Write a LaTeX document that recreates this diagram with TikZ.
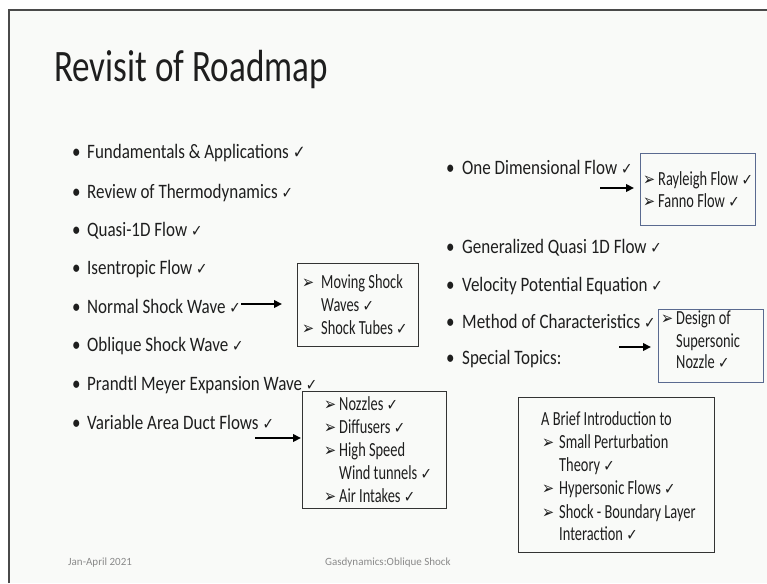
\documentclass[tikz,border=0pt]{standalone}
\usepackage{fontspec}
\setmainfont{Carlito}[FakeStretch=0.83]
\newfontfamily\boxf{Carlito}[FakeStretch=0.72]
\newfontfamily\titf{Carlito}[FakeStretch=0.78]
\newfontfamily\symf{DejaVu Sans}[FakeStretch=0.85]
\newfontfamily\arf{DejaVu Sans}[FakeStretch=0.8]
\newfontfamily\footf{Carlito}
\usetikzlibrary{arrows.meta}
\definecolor{bgc}{HTML}{F9FAF8}
\definecolor{framec}{HTML}{4A4A4A}
\definecolor{boxblue}{HTML}{5A6A90}
\definecolor{footc}{HTML}{8A8A8A}
\definecolor{txtc}{HTML}{1E1E1E}
\newcommand\ck{{\symf\fontsize{16}{16}\selectfont ✓}}
\newcommand\ckb{{\symf\fontsize{18}{18}\selectfont ✓}}
\newcommand\bul{\makebox[15pt][l]{•}}
\newcommand\bulr{\makebox[16pt][l]{•}}
\newcommand\arb[1]{\makebox[#1pt][l]{\arf\fontsize{18}{18}\selectfont ➢}}
\tikzset{
  txt/.style={inner sep=0pt, anchor=base west, text=txtc, font=\fontsize{20.5}{23}\selectfont},
  btxt/.style={inner sep=0pt, anchor=base west, text=txtc, font=\boxf\fontsize{20}{23}\selectfont},
  boxk/.style={draw=black!80, line width=1pt, anchor=north west, inner sep=0pt},
  boxb/.style={draw=boxblue, line width=1pt, anchor=north west, inner sep=0pt},
  flow/.style={line width=2.4pt, -{Triangle[length=8pt,width=7.5pt]}},
  foot/.style={inner sep=0pt, anchor=base west, text=footc, font=\footf\fontsize{11}{12}\selectfont}
}
\begin{document}
\begin{tikzpicture}[x=1pt,y=-1pt]
\useasboundingbox (0,0) rectangle (767,583);
\fill[white] (0,0) rectangle (767,583);
\fill[bgc] (9,10) rectangle (767,583);
\draw[framec, line width=2pt] (9,583) -- (9,10) -- (767,10);

\node[inner sep=0pt, anchor=base west, text=txtc, font=\titf\fontsize{45}{50}\selectfont] (title) at (54,82) {Revisit of Roadmap};

% left column
\node[txt] (l1) at (72,158) {\bul Fundamentals \& Applications~\ckb};
\node[txt] (l2) at (72,198) {\bul Review of Thermodynamics \ck};
\node[txt] (l3) at (72,236) {\bul Quasi-1D Flow \ck};
\node[txt] (l4) at (72,274) {\bul Isentropic Flow \ck};
\node[txt] (l5) at (72,313) {\bul Normal Shock Wave \ck};
\node[txt] (l6) at (72,351) {\bul Oblique Shock Wave \ck};
\node[txt] (l7) at (72,390) {\bul Prandtl Meyer Expansion Wave \ck};
\node[txt] (l8) at (72,429) {\bul Variable Area Duct Flows \ck};

% moving shock box
\node[boxk, minimum width=121pt, minimum height=83pt] (bms) at (297,263) {};
\node[btxt] (ms1) at (302,288) {\arb{19}Moving Shock};
\node[btxt] (ms2) at (321,311) {Waves \ck};
\node[btxt] (ms3) at (302,334) {\arb{19}Shock Tubes \ck};
\coordinate (a1s) at (241,304);
\coordinate (a1e) at (282,304);
\draw[flow] (a1s) -- (a1e);

% nozzles box
\node[boxk, minimum width=144pt, minimum height=117pt] (bnz) at (302,391) {};
\node[btxt] (nz1) at (324,410) {\arb{15}Nozzles \ck};
\node[btxt] (nz2) at (324,433) {\arb{15}Diffusers \ck};
\node[btxt] (nz3) at (324,456) {\arb{15}High Speed};
\node[btxt] (nz4) at (339,479) {Wind tunnels \ck};
\node[btxt] (nz5) at (324,502) {\arb{15}Air Intakes \ck};
\coordinate (a2s) at (255,438);
\coordinate (a2e) at (301,438);
\draw[flow] (a2s) -- (a2e);

% right column
\node[txt] (r1) at (446,174) {\bulr One Dimensional Flow \ck};
\node[txt] (r2) at (446,253) {\bulr Generalized Quasi 1D Flow \ck};
\node[txt] (r3) at (446,291) {\bulr Velocity Potential Equation \ck};
\node[txt] (r4) at (446,328) {\bulr Method of Characteristics \ck};
\node[txt] (r5) at (446,364) {\bulr Special Topics:};

% Rayleigh box
\node[boxb, minimum width=115pt, minimum height=72pt] (bry) at (640,153) {};
\node[btxt] (ry1) at (643,185) {\arb{15}Rayleigh Flow \ck};
\node[btxt] (ry2) at (643,207) {\arb{15}Fanno Flow \ck};
\coordinate (a3s) at (600,188);
\coordinate (a3e) at (634,188);
\draw[flow] (a3s) -- (a3e);

% Design box
\node[boxb, minimum width=105pt, minimum height=73pt] (bdn) at (658,309) {};
\node[btxt] (dn1) at (661,324) {\arb{15}Design of};
\node[btxt] (dn2) at (676,347) {Supersonic};
\node[btxt] (dn3) at (676,368) {Nozzle \ck};
\coordinate (a4s) at (619,347);
\coordinate (a4e) at (651,347);
\draw[flow] (a4s) -- (a4e);

% special topics box
\node[boxk, minimum width=196pt, minimum height=155pt] (bsp) at (518,397) {};
\node[btxt] (sp1) at (541,425) {A Brief Introduction to};
\node[btxt] (sp2) at (542,448) {\arb{17}Small Perturbation};
\node[btxt] (sp3) at (559,471) {Theory \ck};
\node[btxt] (sp4) at (542,494) {\arb{17}Hypersonic Flows \ck};
\node[btxt] (sp5) at (542,518) {\arb{17}Shock - Boundary Layer};
\node[btxt] (sp6) at (559,540) {Interaction \ck};

% footer
\node[foot] (f1) at (68,565) {Jan-April 2021};
\node[foot] (f2) at (325,565) {Gasdynamics:Oblique Shock};
\end{tikzpicture}
\end{document}
